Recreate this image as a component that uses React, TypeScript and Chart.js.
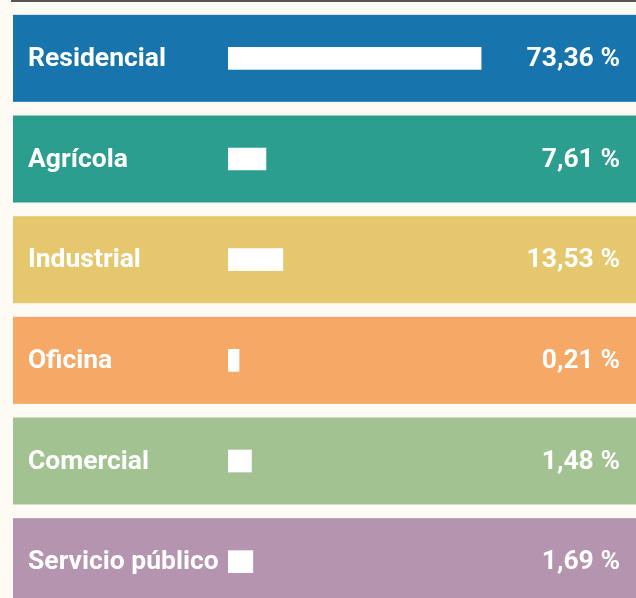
import React, { useEffect, useRef } from "react";
import { Chart, registerables } from "chart.js";

Chart.register(...registerables);

const categories = ["Residencial", "Agrícola", "Industrial", "Oficina", "Comercial", "Servicio público"];
const shares = [73.36, 7.61, 13.53, 0.21, 1.48, 1.69];
const shareLabels = ["73,36 %", "7,61 %", "13,53 %", "0,21 %", "1,48 %", "1,69 %"];
// bar lengths (same units as the share of Residencial)
const barLengths = [73.36, 11.0, 15.9, 3.2, 6.8, 7.2];
const bandColors = ["#1774ac", "#2b9e8f", "#e5c86e", "#f6a866", "#a3c291", "#b494ae"];

const FONT = "bold 25px Roboto";
const STRETCH = 1.06;

const bandsPlugin = {
  id: "bands",
  beforeDatasetsDraw(chart: any) {
    const { ctx, scales } = chart;
    const y = scales.y;
    ctx.save();
    ctx.fillStyle = "#5a5552";
    ctx.fillRect(11, 0, chart.width - 11, 2);
    categories.forEach((_, i) => {
      const c = y.getPixelForValue(i);
      ctx.fillStyle = bandColors[i];
      ctx.fillRect(13, c - 43.5, chart.width - 13, 87);
    });
    ctx.restore();
  },
  afterDatasetsDraw(chart: any) {
    const { ctx, scales } = chart;
    const y = scales.y;
    const drawText = (t: string, x: number, yy: number, align: CanvasTextAlign) => {
      ctx.save();
      ctx.translate(x, yy);
      ctx.scale(STRETCH, 1);
      ctx.fillStyle = "#ffffff";
      ctx.font = FONT;
      ctx.textBaseline = "alphabetic";
      ctx.textAlign = align;
      ctx.fillText(t, 0, 0);
      ctx.restore();
    };
    categories.forEach((name, i) => {
      const c = y.getPixelForValue(i);
      drawText(name, 28, c + 7.5, "left");
      drawText(shareLabels[i], 620, c + 7.5, "right");
    });
  },
};

export default function App() {
  const ref = useRef<HTMLCanvasElement | null>(null);
  useEffect(() => {
    if (!ref.current) return;
    const chart = new Chart(ref.current, {
      type: "bar",
      data: {
        labels: categories,
        datasets: [
          {
            label: "Participación",
            data: barLengths,
            backgroundColor: "#ffffff",
            borderWidth: 0,
            barThickness: 22,
          },
        ],
      },
      options: {
        indexAxis: "y",
        responsive: false,
        animation: false,
        devicePixelRatio: 1,
        layout: { padding: { left: 228, right: 63, top: 8, bottom: 8 } },
        scales: {
          x: { display: false, min: 0, max: 100, grid: { display: false } },
          y: { display: false, grid: { display: false } },
        },
        plugins: { legend: { display: false }, tooltip: { enabled: false } },
      },
      plugins: [bandsPlugin],
    });
    return () => chart.destroy();
  }, []);
  return (
    <div
      style={{
        position: "fixed",
        left: 0,
        top: 0,
        width: 636,
        height: 598,
        overflow: "hidden",
        background: "#fefaf4",
      }}
    >
      <canvas ref={ref} width={636} height={620} style={{ display: "block", width: 636, height: 620 }} />
    </div>
  );
}
